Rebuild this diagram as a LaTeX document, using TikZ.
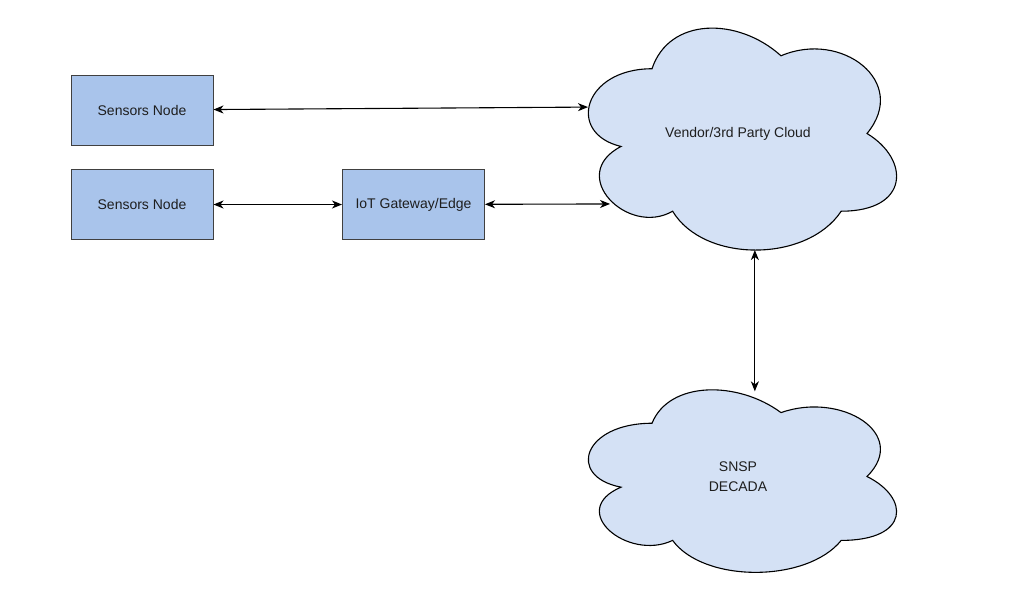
\documentclass[tikz,border=0pt]{standalone}
\usepackage{fontspec}
\setmainfont{Liberation Sans}
\usetikzlibrary{arrows.meta,positioning}
\definecolor{boxblue}{RGB}{169,196,235}
\definecolor{cloudblue}{RGB}{212,225,245}
\definecolor{ink}{RGB}{30,30,30}
\tikzset{
  >={Stealth[length=10pt,width=8pt,inset=3pt]},
  box/.style={draw=black!75,fill=boxblue,line width=1pt,minimum width=142pt,
    minimum height=70pt,align=center,text=ink,font=\fontsize{14}{17}\selectfont},
  flow/.style={<->,line width=1.1pt,draw=#1},
  flow/.default=black,
  tag/.style={text=ink,align=center,font=\fontsize{14}{20}\selectfont},
  % cloud outline in a unit square
  pics/puff/.style={code={
    \draw[black,line width=1.1pt,fill=#1]
      (0.25,0.25) .. controls (0.05,0.25) and (0,0.5) .. (0.16,0.55)
      .. controls (0,0.66) and (0.18,0.9) .. (0.31,0.8)
      .. controls (0.4,1) and (0.7,1) .. (0.8,0.8)
      .. controls (1,0.8) and (1,0.6) .. (0.875,0.5)
      .. controls (1,0.3) and (0.8,0.1) .. (0.625,0.2)
      .. controls (0.5,0.05) and (0.3,0.05) .. (0.25,0.25) -- cycle;
  }},
  pics/puff/.default=cloudblue,
}
\begin{document}
\begin{tikzpicture}[x=1pt,y=-1pt]
  \fill[white] (0,0) rectangle (1018,606);
  \useasboundingbox (0,0) rectangle (1018,606);
  \node[box] (sensA) at (142,110) {Sensors Node};
  \node[box] (sensB) at (142,204.5) {Sensors Node};
  \node[box] (gate) at (413.5,204.5) {IoT Gateway/Edge};
  \begin{scope}[shift={(566,4)},x=344pt,y=-259pt]
    \pic {puff};
    \coordinate (vendorW) at (0.064,0.398);
    \coordinate (vendorSW) at (0.128,0.772);
    \coordinate (vendorS) at (0.549,0.95);
    \node[tag] (vendor) at (0.5,0.5) {Vendor/3rd Party Cloud};
  \end{scope}
  \begin{scope}[shift={(566,370)},x=344pt,y=-213pt]
    \pic {puff};
    \coordinate (snspN) at (0.549,0.1);
    \node[tag] (snsp) at (0.5,0.5) {SNSP\\DECADA};
  \end{scope}
  \draw[flow] (sensA) -- (vendorW);
  \draw[flow] (sensB) -- (gate);
  \draw[flow] (gate) -- (vendorSW);
  \draw[flow] (vendorS) -- (snspN);
\end{tikzpicture}
\end{document}
